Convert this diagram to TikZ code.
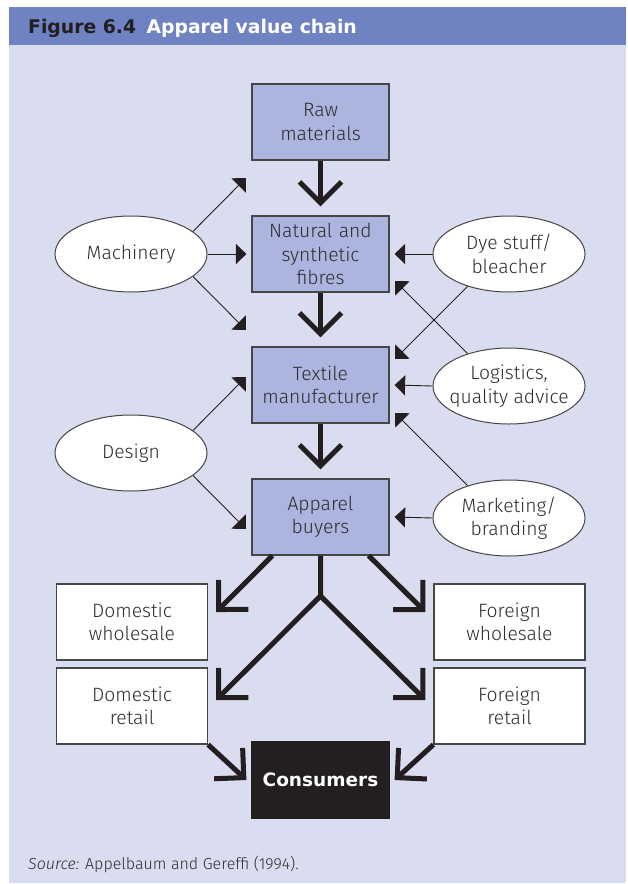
\documentclass[tikz,border=0pt]{standalone}
\usepackage{fontspec}
\setmainfont{Fira Sans}[UprightFont=* Light, ItalicFont=* Light Italic, BoldFont=* Bold]
\newfontfamily\headfont{DejaVu Sans}[UprightFont=* Bold]
\usetikzlibrary{arrows.meta,shapes.geometric}

\definecolor{headblue}{RGB}{111,130,194}
\definecolor{panel}{RGB}{218,221,240}
\definecolor{boxfill}{RGB}{171,181,223}
\definecolor{ink}{RGB}{35,31,32}
\definecolor{txt}{RGB}{45,45,45}
\definecolor{edge}{RGB}{70,70,70}

\begin{document}
\begin{tikzpicture}[x=1pt,y=-1pt,
  chainbox/.style={draw=edge, line width=1.2pt, fill=boxfill, minimum width=137pt,
    minimum height=76pt, inner sep=0pt, text width=137pt, align=center,
    font=\fontsize{19.3}{23.5}\selectfont, text=txt},
  outbox/.style={chainbox, fill=white, minimum width=151pt, text width=151pt},
  endbox/.style={chainbox, fill=ink, draw=ink, text=white, font=\fontsize{18.5}{21}\headfont},
  inputshape/.style={draw=edge, line width=1pt, fill=white, ellipse,
    minimum width=152pt, minimum height=76pt, inner sep=0pt},
  inputtext/.style={align=center, inner sep=0pt, font=\fontsize{19.3}{23.5}\selectfont, text=txt},
  feed/.style={draw=ink, line width=0.9pt, -{Triangle[length=10.5pt,width=20pt]}},
  flow/.style={draw=ink, line width=5pt, line join=miter, -{Straight Barb[length=21pt,width=42pt]}},
  flowline/.style={draw=ink, line width=5pt}
]
\useasboundingbox (0,0) rectangle (628,884);

% page, panel and heading bar
\fill[white] (0,0) rectangle (628,884);
\fill[panel] (9,45) rectangle (626,883);
\fill[headblue] (9,7) rectangle (626,45);
\node[anchor=base west, inner sep=0pt, text=ink, font=\fontsize{18.8}{20}\headfont] (title) at (28,33.5)
  {Figure 6.4\hspace{0.55em}\textcolor{white}{Apparel value chain}};

% main chain
\node[chainbox] (raw) at (320.5,122) {Raw\\materials};
\node[chainbox] (fib) at (320.5,254) {Natural and\\synthetic\\fibres};
\node[chainbox] (tex) at (320.5,385) {Textile\\manufacturer};
\node[chainbox] (app) at (320.5,517) {Apparel\\buyers};

% distribution
\node[outbox] (dw) at (132,622) {Domestic\\wholesale};
\node[outbox] (dr) at (132,706) {Domestic\\retail};
\node[outbox] (fw) at (509.5,622) {Foreign\\wholesale};
\node[outbox] (fr) at (509.5,706) {Foreign\\retail};
\node[endbox] (cons) at (320.5,780) {Consumers};

% inputs
\node[inputshape] (mach) at (131,254) {};
\node[inputtext] (mach-t) at (mach) {Machinery};
\node[inputshape] (desg) at (131,453) {};
\node[inputtext] (desg-t) at (desg) {Design};
\node[inputshape] (dye) at (509,254) {};
\node[inputtext] (dye-t) at (dye) {Dye stuff/\\bleacher};
\node[inputshape] (logi) at (509,386) {};
\node[inputtext] (logi-t) at (logi) {Logistics,\\quality advice};
\node[inputshape] (mark) at (509,518) {};
\node[inputtext] (mark-t) at (mark) {Marketing/\\branding};

% free ends of the diagonal input arrows
\coordinate (mach-up) at (246,178);
\coordinate (mach-dn) at (246,330);
\coordinate (desg-up) at (246,377);
\coordinate (desg-dn) at (246,529);
\coordinate (dye-dn) at (395,359);
\coordinate (logi-up) at (395,281);
\coordinate (mark-up) at (395,413);
\coordinate (split) at (320.5,596);

% input arrows
\draw[feed] (mach.east) -- ([xshift=-5pt]fib.west);
\draw[feed] (mach.20) -- (mach-up);
\draw[feed] (mach.-20) -- (mach-dn);
\draw[feed] (desg.20) -- (desg-up);
\draw[feed] (desg.-20) -- (desg-dn);
\draw[feed] (dye.west) -- ([xshift=5pt]fib.east);
\draw[feed] (dye.218) -- (dye-dn);
\draw[feed] (logi.west) -- ([xshift=5pt]tex.east);
\draw[feed] (logi.142) -- (logi-up);
\draw[feed] (mark.west) -- ([xshift=5pt]app.east);
\draw[feed] (mark.142) -- (mark-up);

% main flow
\draw[flow] (raw.south) -- ([yshift=9pt]fib.north);
\draw[flow] (fib.south) -- ([yshift=9pt]tex.north);
\draw[flow] (tex.south) -- ([yshift=9pt]app.north);
\draw[flow] ([xshift=21pt]app.south west) -- ([shift={(8pt,10pt)}]dw.east);
\draw[flow] ([xshift=-21pt]app.south east) -- ([shift={(-8pt,10pt)}]fw.west);
\draw[flow] (app.south) -- (split) -- ([shift={(8pt,6pt)}]dr.east);
\draw[flow] (split) -- ([shift={(-8pt,6pt)}]fr.west);
\draw[flow] (dr.south east) -- ([xshift=-5pt]cons.west);
\draw[flow] (fr.south west) -- ([xshift=5pt]cons.east);

% source line
\node[anchor=base west, inner sep=0pt, text=txt, font=\fontsize{16}{18}\selectfont] (src) at (28,869)
  {\textit{Source:} Appelbaum and Gereffi (1994).};
\end{tikzpicture}
\end{document}
